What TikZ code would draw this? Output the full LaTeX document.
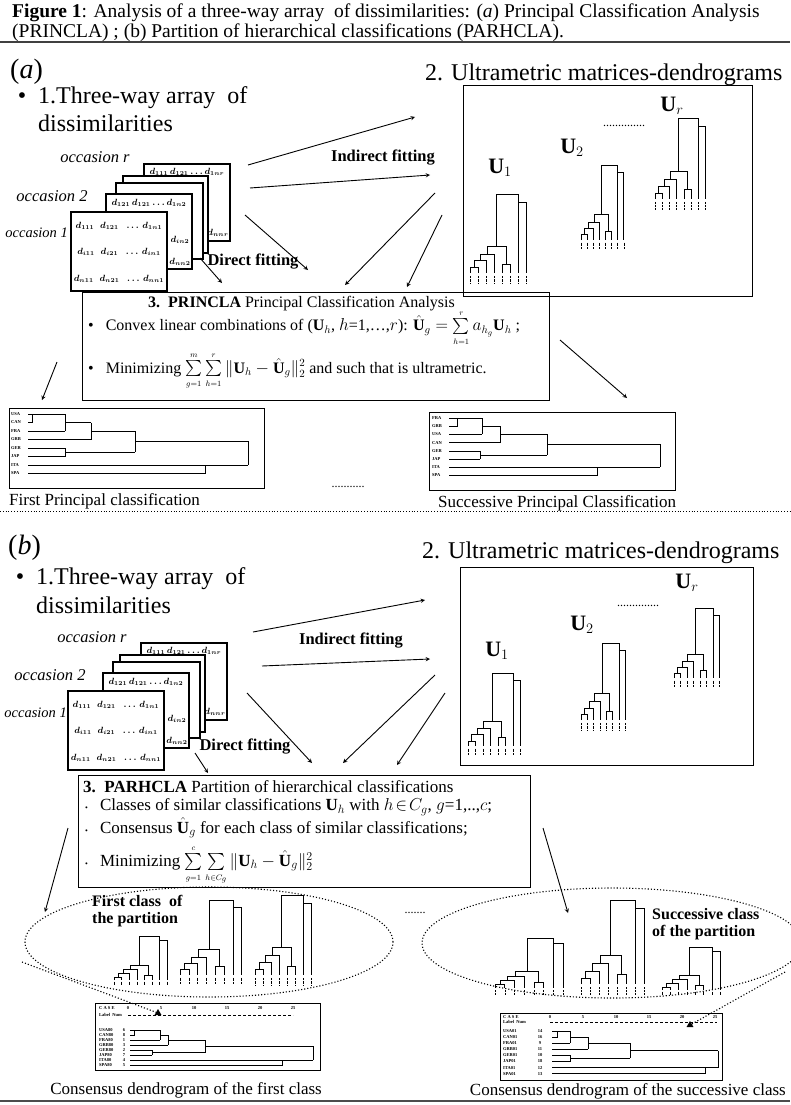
\documentclass[tikz,border=0pt]{standalone}
\usepackage{fontspec}
\setmainfont{Liberation Serif}
\usepackage{amsmath,amssymb}
\usetikzlibrary{arrows,shapes,positioning}

% one small ultrametric tree: leaf 0 at (#1,#2), x step #3, height unit #4
\newcommand{\utree}[4]{%
  \begin{scope}[shift={(#1,#2)},xscale=#3,yscale=-#4]
    \draw[dendro] (0,0) -- (0,0.5) -- (1,0.5) -- (1,0)
      (0.5,0.5) -- (0.5,1.1) -- (2,1.1) -- (2,0)
      (1.25,1.1) -- (1.25,1.7) -- (3,1.7) -- (3,0)
      (4,0) -- (4,0.8) -- (5,0.8) -- (5,0)
      (2.1,1.7) -- (2.1,2.4) -- (4.5,2.4) -- (4.5,0.8)
      (3.3,2.4) -- (3.3,7) -- (6,7) -- (6,0)
      (6,6.3) -- (7,6.3) -- (7,0);
    \foreach \i in {0,...,7} \draw[densely dotted] (\i,-0.25) -- (\i,-0.9);
  \end{scope}}

% labelled dendrogram, rows 0..7: start, joins a A B g C E F
\newcommand{\ctree}[8]{%
  \draw[dendro] (#1,0) -- (#3,0) (#1,1) -- (#2,1) -- (#2,0)
    (#1,2) -- (#3,2) (#3,0) -- (#3,2) (#3,1) -- (#4,1)
    (#1,3) -- (#4,3) (#4,1) -- (#4,3) (#4,2) -- (#6,2)
    (#1,4) -- (#5,4) (#1,5) -- (#5,5) (#5,4) -- (#5,5) (#5,4.5) -- (#6,4.5)
    (#6,2) -- (#6,4.5) (#6,3.2) -- (#7,3.2)
    (#1,6) -- (#7,6) (#7,3.2) -- (#7,6)
    (#1,7) -- (#8,7) -- (#8,6);}

% small sum with tiny limits
\newcommand{\lsum}[2]{\sum\limits_{\scriptscriptstyle #1}^{\scriptscriptstyle #2}}

% the stack of dissimilarity matrices
\newcommand{\matstack}{%
  \node[mat, minimum width=86, minimum height=77] (mr) at (187,202.5) {};
  \node[mat, minimum width=85, minimum height=77] (m4) at (165.5,214.5) {};
  \node[mat, minimum width=87, minimum height=76] (m3) at (159.5,221) {};
  \node[mat, minimum width=86, minimum height=75] (m2) at (149,231.5) {};
  \node[mat, minimum width=96, minimum height=79] (m1) at (119,251.5) {};
  \node[cell] (mr-top) at (187,172) {$d_{111}\,d_{121}\ldots d_{1nr}$};
  \node[cell] (mr-nn) at (218,233) {$d_{nnr}$};
  \node[cell] (m2-top) at (149,203) {$d_{121}\,d_{121}\ldots d_{1n2}$};
  \node[cell] (m2-in) at (180,240) {$d_{in2}$};
  \node[cell] (m2-nn) at (180,262) {$d_{nn2}$};
  \node[cell] (m1-r1) at (119,226) {$d_{111}\;\; d_{121}\;\;\ldots\, d_{1n1}$};
  \node[cell] (m1-r2) at (119,252) {$d_{i11}\;\; d_{i21}\;\;\ldots\, d_{in1}$};
  \node[cell] (m1-r3) at (119,279) {$d_{n11}\;\; d_{n21}\;\;\ldots\, d_{nn1}$};}

\begin{document}
\begin{tikzpicture}[x=1pt,y=-1pt,
    mat/.style={draw, line width=1.1pt, fill=white, inner sep=0pt},
    fitarrow/.style={-stealth, line width=0.9pt},
    dendro/.style={line width=0.55pt},
    frame/.style={draw, line width=1pt, inner sep=0pt},
    head/.style={font=\fontsize{24}{26}\selectfont, inner sep=0pt},
    occ/.style={font=\fontsize{16.5}{18}\selectfont\itshape, inner sep=0pt},
    cell/.style={font=\fontsize{9}{10}\selectfont\boldmath, inner sep=0pt},
    fitlabel/.style={font=\fontsize{16.5}{18}\selectfont\bfseries, inner sep=0pt},
    caption/.style={font=\fontsize{17}{19}\selectfont, inner sep=0pt},
    ulabel/.style={font=\fontsize{22}{24}\selectfont, inner sep=0pt},
    boxtext/.style={font=\fontsize{16}{18}\selectfont, inner sep=0pt},
    tinytext/.style={font=\fontsize{4.5}{5}\selectfont\bfseries, inner sep=0pt},
    dotline/.style={dotted, line width=1.1pt}
]
\useasboundingbox (0,0) rectangle (790,1105);

% title
\node[anchor=west, font=\fontsize{19.5}{21}\selectfont, inner sep=0pt] (title1) at (12,13)
  {\textbf{Figure 1}: Analysis of a three-way array\ \ of dissimilarities: (\textit{a}) Principal Classification Analysis};
\node[anchor=west, font=\fontsize{19.5}{21}\selectfont, inner sep=0pt] (title2) at (12,33)
  {(PRINCLA) ; (b) Partition of hierarchical classifications (PARHCLA).};
\draw[line width=2.5pt, black!75] (0,42) -- (790,42);

%%% (a) PRINCLA
\node[anchor=west, font=\fontsize{28}{30}\selectfont, inner sep=0pt] (parta) at (10,72) {(\textit{a})};
\node[head, anchor=west] (ultra-a) at (425,75) {2. Ultrametric matrices-dendrograms};
\node[head] (bul-a) at (22,98) {\textbullet};
\node[head, anchor=west] (three-a) at (38,98) {1.Three-way array\ \ of};
\node[head, anchor=west] (dis-a) at (38,123) {dissimilarities};

% ultrametric matrices
\node[frame, anchor=north west, minimum width=289, minimum height=211] (ubox-a) at (463,85) {};
\node[ulabel] (u1-a) at (500,168) {$\mathbf{U}_1$};
\node[ulabel] (u2-a) at (572,148) {$\mathbf{U}_2$};
\node[ulabel] (ur-a) at (672,106) {$\mathbf{U}_r$};
\node[font=\fontsize{12}{12}\selectfont, inner sep=0pt] (udots-a) at (624,126) {..............};
\utree{470}{273}{8}{11.3}
\utree{581}{240}{6.1}{10.7}
\utree{655}{199}{7.2}{11.6}

% three-way array
\begin{scope}[name prefix=a-]
  \matstack
\end{scope}
\node[occ] (occr-a) at (95,157) {occasion r};
\node[occ] (occ2-a) at (52,196) {occasion 2};
\node[occ, font=\fontsize{14.5}{16}\selectfont\itshape, anchor=east] (occ1-a) at (68,233) {occasion 1};
\node[fitlabel] (ind-a) at (383,158) {Indirect fitting};
\node[fitlabel] (dir-a) at (253,262) {Direct fitting};

\coordinate (f1s-a) at (248,165); \coordinate (f1e-a) at (415,117);
\coordinate (f2s-a) at (250,188); \coordinate (f2e-a) at (430,175);
\coordinate (f3s-a) at (245,215); \coordinate (f3e-a) at (308,270);
\coordinate (f4s-a) at (435,193); \coordinate (f4e-a) at (345,285);
\coordinate (f5s-a) at (442,215); \coordinate (f5e-a) at (407,287);
\coordinate (f6s-a) at (200,258); \coordinate (f6e-a) at (222,283);
\foreach \k in {1,...,6} \draw[fitarrow] (f\k s-a) -- (f\k e-a);

% PRINCLA box
\node[frame, anchor=north west, minimum width=467, minimum height=108] (princla) at (82,292) {};
\node[boxtext, anchor=west] (princla-t) at (148,304)
  {\textbf{3.\ \ PRINCLA} Principal Classification Analysis};
\node[boxtext, anchor=west] (princla-1) at (88,328)
  {\textbullet\hspace{12pt}Convex linear combinations of ($\mathbf{U}_h$, $h$=1,\dots,$r$): $\hat{\mathbf{U}}_g=\lsum{h=1}{r}a_{h_g}\mathbf{U}_h$ ;};
\node[boxtext, anchor=west] (princla-2) at (88,371)
  {\textbullet\hspace{12pt}Minimizing $\lsum{g=1}{m}\lsum{h=1}{r}\|\mathbf{U}_h-\hat{\mathbf{U}}_g\|_2^2$ and such that is ultrametric.};
\coordinate (pl-s) at (57,362); \coordinate (pl-e) at (42,400);
\coordinate (pr-s) at (560,340); \coordinate (pr-e) at (627,398);
\draw[fitarrow] (pl-s) -- (pl-e);
\draw[fitarrow] (pr-s) -- (pr-e);

% principal classifications
\node[frame, line width=0.8pt, anchor=north west, minimum width=255, minimum height=80] (first-a) at (9,408) {};
\begin{scope}[shift={(0,414)}, yscale=8.5]
  \foreach \lab [count=\k from 0] in {USA,CAN,FRA,GRB,GER,JAP,ITA,SPA}
    \node[tinytext, anchor=west] (fl-\k) at (11,\k) {\lab};
  \ctree{28}{32}{65}{91}{65}{135}{248}{205}
\end{scope}
\node[frame, line width=0.8pt, anchor=north west, minimum width=246, minimum height=78] (succ-a) at (429,412) {};
\begin{scope}[shift={(0,418)}, yscale=8.2]
  \foreach \lab [count=\k from 0] in {FRA,GRB,USA,CAN,GER,JAP,ITA,SPA}
    \node[tinytext, anchor=west] (sl-\k) at (432,\k) {\lab};
  \ctree{449}{457}{482}{500}{480}{547}{660}{597}
\end{scope}
\node[caption, anchor=west] (cap1-a) at (9,501) {First Principal classification};
\node[caption, anchor=west] (cap2-a) at (438,503) {Successive Principal Classification};
\node[font=\fontsize{12}{12}\selectfont, inner sep=0pt] (pdots-a) at (348,487) {...........};
\draw[dotted, line width=0.8pt] (0,511) -- (790,511);

%%% (b) PARHCLA
\node[anchor=west, font=\fontsize{28}{30}\selectfont, inner sep=0pt] (partb) at (8,548) {(\textit{b})};
\node[head, anchor=west] (ultra-b) at (422,553) {2. Ultrametric matrices-dendrograms};
\node[head] (bul-b) at (20,579) {\textbullet};
\node[head, anchor=west] (three-b) at (36,579) {1.Three-way array\ \ of};
\node[head, anchor=west] (dis-b) at (36,605) {dissimilarities};

\node[frame, anchor=north west, minimum width=293, minimum height=198] (ubox-b) at (460,567) {};
\node[ulabel] (u1-b) at (497,651) {$\mathbf{U}_1$};
\node[ulabel] (u2-b) at (582,625) {$\mathbf{U}_2$};
\node[ulabel] (ur-b) at (687,583) {$\mathbf{U}_r$};
\node[font=\fontsize{12}{12}\selectfont, inner sep=0pt] (udots-b) at (638,606) {..............};
\utree{468}{746}{7.5}{10.4}
\utree{581}{720}{6.3}{11}
\utree{674}{678}{6.5}{10}

\begin{scope}[shift={(-3,479)}, name prefix=b-]
  \matstack
\end{scope}
\node[occ] (occr-b) at (92,637) {occasion r};
\node[occ] (occ2-b) at (50,675) {occasion 2};
\node[occ, font=\fontsize{14.5}{16}\selectfont\itshape, anchor=east] (occ1-b) at (67,713) {occasion 1};
\node[fitlabel] (ind-b) at (351,641) {Indirect fitting};
\node[fitlabel] (dir-b) at (245,747) {Direct fitting};

\coordinate (f1s-b) at (253,632); \coordinate (f1e-b) at (425,600);
\coordinate (f2s-b) at (262,666); \coordinate (f2e-b) at (430,659);
\coordinate (f3s-b) at (247,693); \coordinate (f3e-b) at (312,763);
\coordinate (f4s-b) at (435,675); \coordinate (f4e-b) at (343,763);
\coordinate (f5s-b) at (445,693); \coordinate (f5e-b) at (397,765);
\coordinate (f6s-b) at (195,753); \coordinate (f6e-b) at (208,773);
\foreach \k in {1,...,6} \draw[fitarrow] (f\k s-b) -- (f\k e-b);

% PARHCLA box
\node[frame, anchor=north west, minimum width=452, minimum height=112] (parhcla) at (78,775) {};
\node[boxtext, font=\fontsize{17}{19}\selectfont, anchor=west] (parhcla-t) at (83,787)
  {\textbf{3.\ \ PARHCLA} Partition of hierarchical classifications};
\node[boxtext, font=\fontsize{17}{19}\selectfont, anchor=west] (parhcla-1) at (85,807)
  {{\footnotesize\textbullet}\hspace{12pt}Classes of similar classifications $\mathbf{U}_h$ with $h\!\in\! C_g$, $g$=1,..,$c$;};
\node[boxtext, font=\fontsize{17}{19}\selectfont, anchor=west] (parhcla-2) at (85,828)
  {{\footnotesize\textbullet}\hspace{12pt}Consensus $\hat{\mathbf{U}}_g$ for each class of similar classifications;};
\node[boxtext, font=\fontsize{17}{19}\selectfont, anchor=west] (parhcla-3) at (85,865)
  {{\footnotesize\textbullet}\hspace{12pt}Minimizing $\lsum{g=1}{c}\lsum{h\in C_g}{}\|\mathbf{U}_h-\hat{\mathbf{U}}_g\|_2^2$};
\coordinate (hl-s) at (68,828); \coordinate (hl-e) at (45,912);
\coordinate (hr-s) at (543,828); \coordinate (hr-e) at (568,913);
\draw[fitarrow] (hl-s) -- (hl-e);
\draw[fitarrow] (hr-s) -- (hr-e);

% classes of the partition
\node[draw, ellipse, dotline, minimum width=368, minimum height=110] (class1) at (209,942) {};
\node[draw, ellipse, dotline, minimum width=380, minimum height=110] (classc) at (612,943) {};
\node[font=\fontsize{16}{17}\selectfont\bfseries, inner sep=0pt, align=left, anchor=north west] (class1-t) at (92,895)
  {First class\ \ of\\the partition};
\node[font=\fontsize{16}{17}\selectfont\bfseries, inner sep=0pt, align=left, anchor=north west] (classc-t) at (652,908)
  {Successive class\\of the partition};
\node[font=\fontsize{12}{12}\selectfont, inner sep=0pt] (cdots) at (415,913) {.......};
\utree{114}{980}{7.6}{6.3}
\utree{180}{975}{8.8}{10.7}
\utree{255}{975}{8}{11.4}
\utree{495}{988}{9.7}{7.1}
\utree{581}{984}{9}{12}
\utree{662}{990}{8.3}{6.1}

% consensus dendrograms
\node[frame, line width=0.8pt, anchor=north west, minimum width=225, minimum height=67] (cons1) at (95,1003) {};
\node[tinytext, anchor=west] (cons1-case) at (99,1008) {C A S E};
\node[tinytext, anchor=west] (cons1-lab) at (99,1015) {Label\ \ Num};
\foreach \v [count=\k from 0] in {0,5,10,15,20,25}
  \node[tinytext] (cons1-s\k) at (128+33*\k,1008) {\v};
\draw[densely dashed, line width=0.4pt] (128,1015) -- (293,1015);
\begin{scope}[shift={(0,1030)}, yscale=5]
  \foreach \lab/\num [count=\k from 0] in {USA80/6,CAN80/8,FRA80/1,GRB80/3,GER80/2,JAP80/7,ITA80/4,SPA80/5}
    {\node[tinytext, anchor=west] (c1l-\k) at (99,\k) {\lab};
     \node[tinytext] (c1n-\k) at (124,\k) {\num};}
  \ctree{130}{134}{160}{168}{152}{205}{313}{282}
\end{scope}
\node[regular polygon, regular polygon sides=3, fill=black, inner sep=0pt, minimum size=8pt] (tri1) at (158,1013) {};
\coordinate (d1-s) at (22,962);
\draw[dotline] (d1-s) -- (tri1);

\node[frame, line width=0.8pt, anchor=north west, minimum width=222, minimum height=67] (consc) at (500,1013) {};
\node[tinytext, anchor=west] (consc-case) at (503,1017) {C A S E};
\node[tinytext, anchor=west] (consc-lab) at (503,1022) {Label\ \ Num};
\foreach \v [count=\k from 0] in {0,5,10,15,20,25}
  \node[tinytext] (consc-s\k) at (550+33*\k,1017) {\v};
\draw[densely dashed, line width=0.4pt] (550,1022) -- (717,1022);
\begin{scope}[shift={(0,1031)}, yscale=6.1]
  \foreach \lab/\num [count=\k from 0] in {USA01/14,CAN01/16,FRA01/9,GRB01/11,GER01/10,JAP01/18,ITA01/12,SPA01/13}
    {\node[tinytext, anchor=west] (c2l-\k) at (503,\k) {\lab};
     \node[tinytext] (c2n-\k) at (540,\k) {\num};}
  \ctree{552}{557}{570}{588}{570}{630}{718}{705}
\end{scope}
\node[regular polygon, regular polygon sides=3, fill=black, inner sep=0pt, minimum size=8pt] (tri2) at (690,1025) {};
\coordinate (d2-s) at (785,972);
\draw[dotline] (d2-s) -- (tri2);

\node[caption, anchor=east] (cap1-b) at (322,1090) {Consensus dendrogram of the first class};
\node[caption, anchor=east] (cap2-b) at (786,1091) {Consensus dendrogram of the successive class};
\draw[line width=1.5pt, black!70] (0,1101) -- (790,1101);
\end{tikzpicture}
\end{document}
